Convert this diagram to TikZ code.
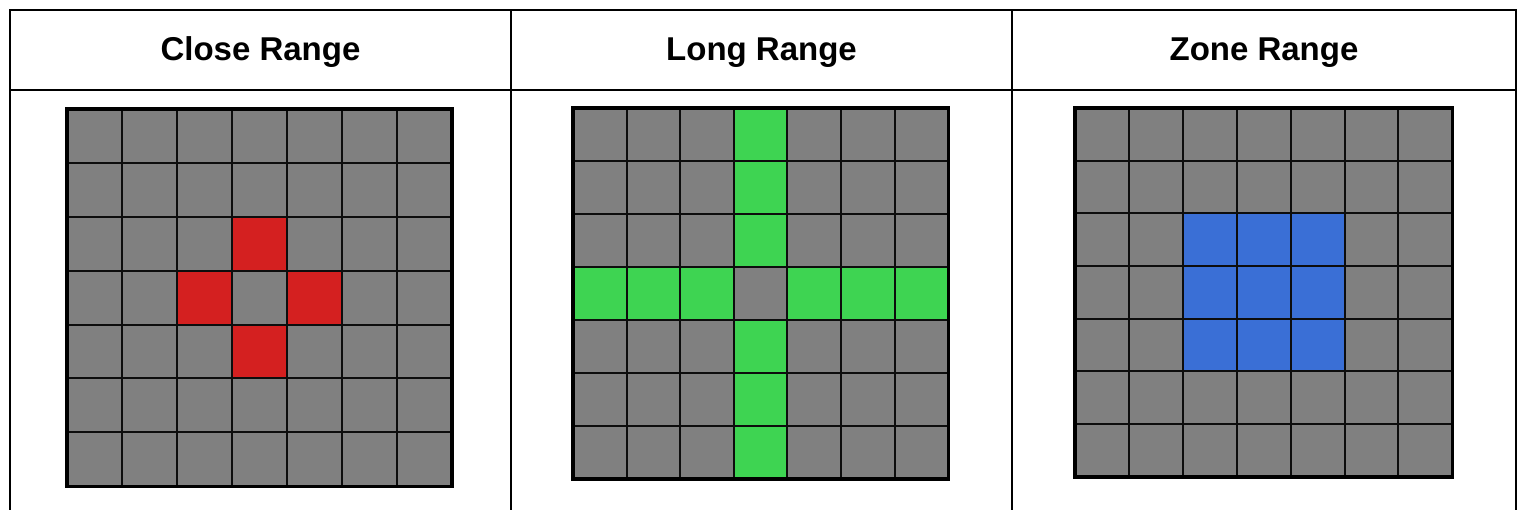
\documentclass[tikz,border=0pt]{standalone}
\usepackage{fontspec}
\setmainfont{Liberation Sans}
\definecolor{cellgray}{HTML}{808080}
\definecolor{cellred}{HTML}{D42020}
\definecolor{cellgreen}{HTML}{3ED452}
\definecolor{cellblue}{HTML}{3A6FD6}
\tikzset{
  tableline/.style={draw=black, line width=2pt},
  innerline/.style={draw=black!95, line width=2pt},
  outerline/.style={draw=black, line width=3.2pt},
  header/.style={anchor=base, font=\fontsize{33}{39}\selectfont\bfseries, inner sep=0pt},
}
\begin{document}
\begin{tikzpicture}[x=1pt, y=-1pt]
\useasboundingbox (0,0) rectangle (1523,510);
% table
\draw[tableline] (10,520) -- (10,10) -- (1516,10) -- (1516,520);
\draw[tableline] (10,90) -- (1516,90);
\draw[tableline] (511,10) -- (511,520);
\draw[tableline] (1012,10) -- (1012,520);
% headers
\node[header] (hclose) at (260.5,61) {Close Range};
\node[header] (hlong) at (761.5,61) {Long Range};
\node[header] (hzone) at (1264,61) {Zone Range};
% Close range grid
\begin{scope}[shift={(67,109)}, xscale=55, yscale=53.9]
  \fill[cellgray] (0,0) rectangle (7,7);
  \fill[cellred] (3,2) rectangle (4,3);
  \fill[cellred] (2,3) rectangle (3,4);
  \fill[cellred] (4,3) rectangle (5,4);
  \fill[cellred] (3,4) rectangle (4,5);
  \foreach \i in {1,...,6} {
    \draw[innerline] (\i,0) -- (\i,7);
    \draw[innerline] (0,\i) -- (7,\i);
  }
  \draw[outerline] (0,0) rectangle (7,7);
\end{scope}
% Long range grid
\begin{scope}[shift={(573,108)}, xscale=53.6, yscale=53]
  \fill[cellgray] (0,0) rectangle (7,7);
  \fill[cellgreen] (3,0) rectangle (4,3);
  \fill[cellgreen] (3,4) rectangle (4,7);
  \fill[cellgreen] (0,3) rectangle (3,4);
  \fill[cellgreen] (4,3) rectangle (7,4);
  \foreach \i in {1,...,6} {
    \draw[innerline] (\i,0) -- (\i,7);
    \draw[innerline] (0,\i) -- (7,\i);
  }
  \draw[outerline] (0,0) rectangle (7,7);
\end{scope}
% Zone range grid
\begin{scope}[shift={(1075,108)}, xscale=53.9, yscale=52.7]
  \fill[cellgray] (0,0) rectangle (7,7);
  \fill[cellblue] (2,2) rectangle (5,5);
  \foreach \i in {1,...,6} {
    \draw[innerline] (\i,0) -- (\i,7);
    \draw[innerline] (0,\i) -- (7,\i);
  }
  \draw[outerline] (0,0) rectangle (7,7);
\end{scope}
\end{tikzpicture}
\end{document}
